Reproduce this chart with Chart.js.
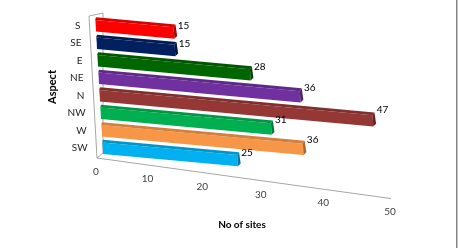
<!DOCTYPE html>
<html>
<head>
<meta charset="utf-8">
<title>No of sites by aspect</title>
<script src="https://cdn.jsdelivr.net/npm/chart.js@4.4.0/dist/chart.umd.min.js"></script>
<style>
  html, body { margin: 0; padding: 0; background: #fff; }
  #wrap { width: 458px; height: 248px; }
</style>
</head>
<body>
<div id="wrap"><canvas id="aspectChart" width="458" height="248"></canvas></div>
<script>
// --- Data ---
const aspects = ['S', 'SE', 'E', 'NE', 'N', 'NW', 'W', 'SW'];
const siteCounts = [15, 15, 28, 36, 47, 31, 36, 25];
const barColors = ['#FF0000', '#002060', '#006600', '#7030A0', '#953735', '#00B050', '#F79646', '#00B0F0'];
const xTickValues = [0, 10, 20, 30, 40, 50];

// fake 3D perspective: bars slope down to the right, rows drift right going down
const skew = { ky: 0.092, kx: 0.057, floor: 0.137, depth: 3, foreshorten: 0.85 };
const fontFamily = 'Lato, "Open Sans", sans-serif';

// linear scale whose units grow towards the right, like the Excel 3D view
class PerspectiveScale extends Chart.LinearScale {
    getPixelForDecimal(t) {
        const k = skew.foreshorten;
        return super.getPixelForDecimal(t * k / (1 + (k - 1) * t));
    }
    getDecimalForPixel(pixel) {
        const k = skew.foreshorten;
        const f = super.getDecimalForPixel(pixel);
        return f / (k - (k - 1) * f);
    }
}
PerspectiveScale.id = 'perspective';
PerspectiveScale.defaults = Chart.LinearScale.defaults;
Chart.register(PerspectiveScale);

function shade(hex, f) {
    const n = parseInt(hex.slice(1), 16);
    const r = Math.round(((n >> 16) & 255) * f);
    const g = Math.round(((n >> 8) & 255) * f);
    const b = Math.round((n & 255) * f);
    return `rgb(${r},${g},${b})`;
}

function project(area, x, y) {
    return { x: x + skew.kx * (y - area.top), y: y + skew.ky * (x - area.left) };
}

const perspectivePlugin = {
    id: 'perspective3d',
    beforeDatasetsDraw(chart) {
        const { ctx, chartArea: a } = chart;
        const xEnd = chart.scales.x.getPixelForValue(50) + 2;

        // --- side wall + floor outline ---
        ctx.save();
        ctx.strokeStyle = '#a6a6a6';
        ctx.lineWidth = 1;
        ctx.beginPath();
        ctx.moveTo(a.left + 8, a.top - 4);
        ctx.lineTo(a.left - 6, a.top - 1);
        ctx.lineTo(a.left + 2, a.bottom + 1);
        ctx.lineTo(a.left + 8, a.bottom - 4);
        ctx.lineTo(a.left + 8, a.top - 4);
        ctx.moveTo(a.left + 2, a.bottom + 1);
        ctx.lineTo(xEnd, a.bottom + 1 + skew.floor * (xEnd - a.left));
        ctx.stroke();
        ctx.restore();

        ctx.save();
        ctx.translate(a.left, a.top);
        ctx.transform(1, skew.ky, skew.kx, 1, 0, 0);
        ctx.translate(-a.left, -a.top);
    },
    afterDatasetsDraw(chart) {
        const { ctx, chartArea: a } = chart;
        const d = skew.depth;
        const meta = chart.getDatasetMeta(0);

        // --- top faces and end caps, still in skewed space ---
        meta.data.forEach((bar, i) => {
            const { x, y, base, height } = bar.getProps(['x', 'y', 'base', 'height'], true);
            const top = y - height / 2;
            const bottom = y + height / 2;
            ctx.fillStyle = shade(barColors[i], 0.85);
            ctx.beginPath();
            ctx.moveTo(base, top);
            ctx.lineTo(base + 1, top - d);
            ctx.lineTo(x + 2, top - d);
            ctx.lineTo(x, top);
            ctx.closePath();
            ctx.fill();
            ctx.fillStyle = shade(barColors[i], 0.68);
            ctx.beginPath();
            ctx.moveTo(x, top);
            ctx.lineTo(x + 2, top - d);
            ctx.lineTo(x + 3, bottom - d);
            ctx.lineTo(x, bottom);
            ctx.closePath();
            ctx.fill();
        });
        ctx.restore();

        // --- data labels ---
        ctx.save();
        ctx.font = `10px ${fontFamily}`;
        ctx.fillStyle = '#000';
        ctx.textAlign = 'left';
        ctx.textBaseline = 'middle';
        meta.data.forEach((bar, i) => {
            const { x, y, height } = bar.getProps(['x', 'y', 'height'], true);
            const p = project(a, x + 4, y - height / 2);
            ctx.fillText(siteCounts[i], p.x, p.y - 0.02 * (x - a.left));
        });
        ctx.restore();
    },
    afterDraw(chart) {
        const { ctx, chartArea: a } = chart;
        const xScale = chart.scales.x;
        const yScale = chart.scales.y;
        ctx.save();

        // --- x tick labels along the sloped floor ---
        ctx.font = `10px ${fontFamily}`;
        ctx.fillStyle = '#404040';
        ctx.textAlign = 'center';
        ctx.textBaseline = 'middle';
        xTickValues.forEach(v => {
            const px = xScale.getPixelForValue(v);
            const py = a.bottom + 1 + skew.floor * (px - a.left) + 14;
            ctx.fillText(v, px + 1, py);
        });

        // --- category labels ---
        ctx.fillStyle = '#262626';
        ctx.textAlign = 'right';
        aspects.forEach((label, i) => {
            const py = yScale.getPixelForValue(i);
            const p = project(a, a.left - 15, py);
            ctx.fillText(label, p.x, py);
        });

        // right border of the chart frame
        ctx.fillStyle = '#868686';
        ctx.fillRect(chart.width - 2, 0, 1.5, chart.height);
        ctx.restore();
    }
};

new Chart(document.getElementById('aspectChart'), {
    type: 'bar',
    data: {
        labels: aspects,
        datasets: [{
            label: 'No of sites',
            data: siteCounts,
            backgroundColor: barColors,
            borderWidth: 0,
            barPercentage: 0.72,
            categoryPercentage: 0.9
        }]
    },
    options: {
        indexAxis: 'y',
        responsive: false,
        devicePixelRatio: 1,
        animation: false,
        layout: { padding: { left: 46, right: 69, top: 17, bottom: 17 } },
        plugins: { legend: { display: false }, tooltip: { enabled: false } },
        scales: {
            x: {
                type: 'perspective',
                min: 0, max: 50,
                ticks: { display: false, stepSize: 10 },
                grid: { display: false },
                border: { display: false },
                title: {
                    display: true, text: 'No of sites', color: '#000',
                    font: { family: fontFamily, size: 10, weight: 'bold' },
                    padding: 0
                },
                afterFit(scale) { scale.height = 74; }
            },
            y: {
                ticks: { display: false },
                grid: { display: false },
                border: { display: false },
                title: {
                    display: true, text: 'Aspect', color: '#000',
                    font: { family: fontFamily, size: 11, weight: 'bold' },
                    padding: 0
                },
                afterFit(scale) { scale.width = 49; }
            }
        }
    },
    plugins: [perspectivePlugin]
});
</script>
</body>
</html>
